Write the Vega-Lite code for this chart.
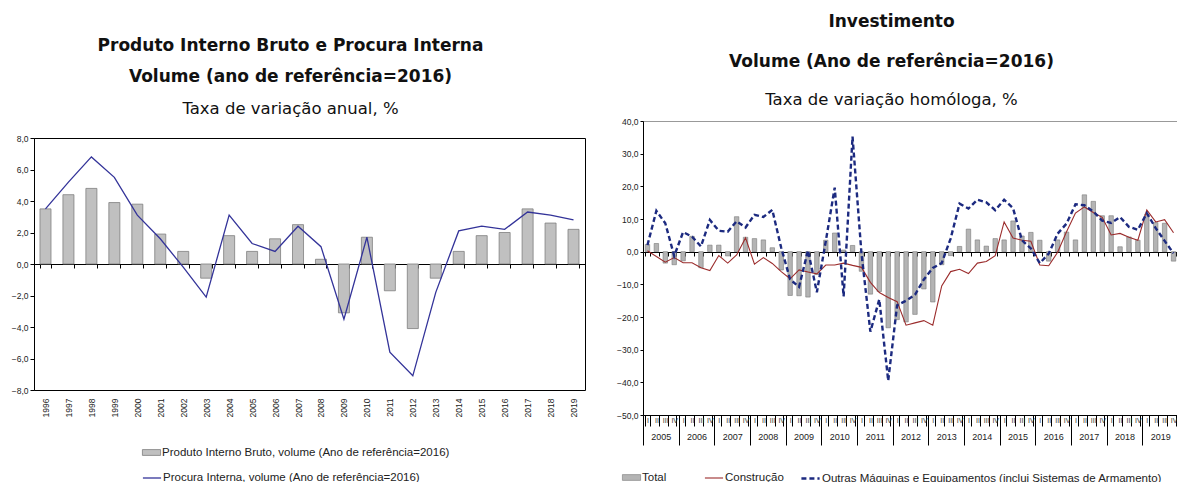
{
  "$schema": "https://vega.github.io/schema/vega-lite/v6.json",
  "background": "white",
  "padding": {"left": 10, "top": 12, "right": 0, "bottom": 0},
  "config": {
    "font": "Liberation Sans",
    "axis": {"labelFont": "Liberation Sans", "labelFontSize": 8.5, "labelColor": "#222", "domainColor": "#000", "tickColor": "#000", "grid": false, "labelOverlap": false},
    "axisY": {"labelOverlap": false},
    "axisQuantitative": {"labelOverlap": false},
    "title": {"font": "DejaVu Sans", "fontSize": 17, "fontWeight": "bold", "color": "#111", "subtitleFont": "DejaVu Sans", "subtitleFontSize": 16.5, "subtitleColor": "#111", "anchor": "middle", "frame": "group"},
    "legend": {"labelFont": "Liberation Sans", "labelFontSize": 11.5, "labelColor": "#222", "labelLimit": 500, "title": null}
  },
  "resolve": {"scale": {"color": "independent", "fill": "independent", "stroke": "independent", "strokeDash": "independent"}},
  "spacing": 29,
  "hconcat": [
    {
      "resolve": {"scale": {"x": "independent", "y": "independent"}},
      "spacing": 11,
      "data": {"values": [
        {"ano": "1996", "pib": 3.5, "procura": 3.5},
        {"ano": "1997", "pib": 4.4, "procura": 5.2},
        {"ano": "1998", "pib": 4.8, "procura": 6.8},
        {"ano": "1999", "pib": 3.9, "procura": 5.5},
        {"ano": "2000", "pib": 3.8, "procura": 3.1},
        {"ano": "2001", "pib": 1.9, "procura": 1.6},
        {"ano": "2002", "pib": 0.8, "procura": -0.2},
        {"ano": "2003", "pib": -0.9, "procura": -2.1},
        {"ano": "2004", "pib": 1.8, "procura": 3.1},
        {"ano": "2005", "pib": 0.8, "procura": 1.3},
        {"ano": "2006", "pib": 1.6, "procura": 0.8},
        {"ano": "2007", "pib": 2.5, "procura": 2.4},
        {"ano": "2008", "pib": 0.3, "procura": 1.1},
        {"ano": "2009", "pib": -3.1, "procura": -3.5},
        {"ano": "2010", "pib": 1.7, "procura": 1.7},
        {"ano": "2011", "pib": -1.7, "procura": -5.6},
        {"ano": "2012", "pib": -4.1, "procura": -7.1},
        {"ano": "2013", "pib": -0.9, "procura": -1.8},
        {"ano": "2014", "pib": 0.8, "procura": 2.1},
        {"ano": "2015", "pib": 1.8, "procura": 2.4},
        {"ano": "2016", "pib": 2.0, "procura": 2.2},
        {"ano": "2017", "pib": 3.5, "procura": 3.3},
        {"ano": "2018", "pib": 2.6, "procura": 3.1},
        {"ano": "2019", "pib": 2.2, "procura": 2.8}
      ]},
      "vconcat": [
        {
          "width": 551,
          "height": 1,
          "view": {"stroke": null},
          "title": {"text": ["Produto Interno Bruto e Procura Interna", "Volume (ano de referência=2016)"], "lineHeight": 31, "subtitle": "Taxa de variação anual, %", "subtitlePadding": 15, "offset": 2, "dx": -19},
          "mark": {"type": "rule", "opacity": 0},
          "encoding": {}
        },
        {
          "width": 551,
          "height": 252,
          "view": {"stroke": "#000", "strokeWidth": 1},
          "layer": [
            {
              "mark": {"type": "bar", "stroke": "#7f7f7f", "strokeWidth": 0.8},
              "encoding": {
                "x": {"field": "ano", "type": "ordinal", "scale": {"type": "band", "paddingInner": 0.52, "paddingOuter": 0.26},
                  "axis": {"title": null, "orient": "bottom", "offset": -126, "labelAngle": -90, "labelAlign": "right", "labelBaseline": "middle", "labelPadding": 130, "tickBand": "extent", "tickSize": 4, "labelFontSize": 8.5}},
                "y": {"field": "pib", "type": "quantitative", "scale": {"domain": [-8, 8], "nice": false},
                  "axis": {"title": null, "values": [-8, -6, -4, -2, 0, 2, 4, 6, 8], "labelOverlap": false, "labelExpr": "replace(format(datum.value, '.1f'), '.', ',')", "tickSize": 4, "labelPadding": 2}},
                "fill": {"datum": "Produto Interno Bruto, volume (Ano de referência=2016)",
                  "scale": {"range": ["#c0c0c0"]},
                  "legend": {"title": null, "orient": "none", "legendX": 108, "legendY": 322, "symbolType": "M-1,-0.32H1V0.32H-1Z", "symbolSize": 330, "symbolStrokeColor": "#7f7f7f", "symbolStrokeWidth": 0.8, "labelOffset": 1}}
              }
            },
            {
              "mark": {"type": "line", "strokeWidth": 1.3},
              "encoding": {
                "x": {"field": "ano", "type": "ordinal"},
                "y": {"field": "procura", "type": "quantitative",
                  "axis": {"title": null, "values": [-8, -6, -4, -2, 0, 2, 4, 6, 8], "labelOverlap": false, "labelExpr": "replace(format(datum.value, '.1f'), '.', ',')", "tickSize": 4, "labelPadding": 2}},
                "stroke": {"datum": "Procura Interna, volume (Ano de referência=2016)",
                  "scale": {"range": ["#333399"]},
                  "legend": {"title": null, "orient": "none", "legendX": 108, "legendY": 347, "symbolType": "stroke", "symbolSize": 330, "symbolStrokeWidth": 1.3, "labelOffset": 1}}
              }
            }
          ]
        }
      ]
    },
    {
      "width": 535,
      "height": 294,
      "view": {"stroke": "#999", "strokeWidth": 1},
      "title": {"text": ["Investimento", "Volume (Ano de referência=2016)"], "lineHeight": 40, "subtitle": "Taxa de variação homóloga, %", "subtitlePadding": 21, "offset": 8, "dx": -19},
      "data": {"values": [
        {"q": "2005-I", "total": 2.2, "constr": 0.3, "outras": 2.0},
        {"q": "2005-II", "total": 2.5, "constr": -1.5, "outras": 12.5},
        {"q": "2005-III", "total": -3.5, "constr": -3.2, "outras": 8.7},
        {"q": "2005-IV", "total": -4.0, "constr": -1.8, "outras": -1.3},
        {"q": "2006-I", "total": -2.8, "constr": -3.4, "outras": 6.0},
        {"q": "2006-II", "total": 4.7, "constr": -3.4, "outras": 4.6},
        {"q": "2006-III", "total": -4.9, "constr": -4.9, "outras": 1.6},
        {"q": "2006-IV", "total": 2.0, "constr": -5.8, "outras": 9.7},
        {"q": "2007-I", "total": 2.0, "constr": -1.2, "outras": 6.4},
        {"q": "2007-II", "total": -1.3, "constr": -3.5, "outras": 6.1},
        {"q": "2007-III", "total": 10.7, "constr": -1.0, "outras": 9.3},
        {"q": "2007-IV", "total": 4.4, "constr": 4.2, "outras": 7.4},
        {"q": "2008-I", "total": 4.0, "constr": -3.8, "outras": 11.3},
        {"q": "2008-II", "total": 3.6, "constr": -1.8, "outras": 10.6},
        {"q": "2008-III", "total": 1.2, "constr": -3.6, "outras": 12.8},
        {"q": "2008-IV", "total": -5.6, "constr": -6.1, "outras": 1.2},
        {"q": "2009-I", "total": -13.4, "constr": -8.3, "outras": -8.5},
        {"q": "2009-II", "total": -13.5, "constr": -5.6, "outras": -10.8},
        {"q": "2009-III", "total": -13.9, "constr": -6.2, "outras": 0.4},
        {"q": "2009-IV", "total": -7.0, "constr": -6.8, "outras": -12.4},
        {"q": "2010-I", "total": 3.5, "constr": -4.1, "outras": 3.2},
        {"q": "2010-II", "total": 5.7, "constr": -4.1, "outras": 19.6},
        {"q": "2010-III", "total": 0.5, "constr": -3.5, "outras": -13.7},
        {"q": "2010-IV", "total": 1.9, "constr": -4.2, "outras": 35.2},
        {"q": "2011-I", "total": -6.0, "constr": -4.8, "outras": -0.5},
        {"q": "2011-II", "total": -13.0, "constr": -9.4, "outras": -24.5},
        {"q": "2011-III", "total": -12.2, "constr": -12.5, "outras": -14.6},
        {"q": "2011-IV", "total": -23.3, "constr": -14.0, "outras": -39.5},
        {"q": "2012-I", "total": -20.8, "constr": -15.3, "outras": -16.4},
        {"q": "2012-II", "total": -21.5, "constr": -22.5, "outras": -15.0},
        {"q": "2012-III", "total": -19.2, "constr": -21.8, "outras": -13.2},
        {"q": "2012-IV", "total": -11.4, "constr": -21.1, "outras": -8.5},
        {"q": "2013-I", "total": -15.4, "constr": -22.5, "outras": -5.0},
        {"q": "2013-II", "total": -4.0, "constr": -10.5, "outras": -3.5},
        {"q": "2013-III", "total": -1.2, "constr": -6.1, "outras": 4.0},
        {"q": "2013-IV", "total": 1.6, "constr": -5.4, "outras": 14.7},
        {"q": "2014-I", "total": 6.9, "constr": -6.7, "outras": 13.2},
        {"q": "2014-II", "total": 3.6, "constr": -3.5, "outras": 15.9},
        {"q": "2014-III", "total": 1.7, "constr": -3.0, "outras": 15.1},
        {"q": "2014-IV", "total": 4.0, "constr": -1.2, "outras": 12.7},
        {"q": "2015-I", "total": 3.6, "constr": 9.1, "outras": 15.9},
        {"q": "2015-II", "total": 9.4, "constr": 4.2, "outras": 13.3},
        {"q": "2015-III", "total": 4.8, "constr": 3.5, "outras": 3.5},
        {"q": "2015-IV", "total": 5.9, "constr": 3.2, "outras": 1.0},
        {"q": "2016-I", "total": 3.5, "constr": -4.1, "outras": -3.5},
        {"q": "2016-II", "total": -2.9, "constr": -4.3, "outras": -0.6},
        {"q": "2016-III", "total": 3.6, "constr": -0.2, "outras": 5.5},
        {"q": "2016-IV", "total": 6.0, "constr": 6.1, "outras": 8.6},
        {"q": "2017-I", "total": 3.6, "constr": 11.8, "outras": 14.5},
        {"q": "2017-II", "total": 17.4, "constr": 13.7, "outras": 14.2},
        {"q": "2017-III", "total": 15.4, "constr": 12.0, "outras": 12.3},
        {"q": "2017-IV", "total": 11.0, "constr": 10.5, "outras": 9.5},
        {"q": "2018-I", "total": 11.0, "constr": 5.1, "outras": 8.8},
        {"q": "2018-II", "total": 1.5, "constr": 5.6, "outras": 10.6},
        {"q": "2018-III", "total": 4.5, "constr": 4.4, "outras": 7.6},
        {"q": "2018-IV", "total": 3.5, "constr": 3.5, "outras": 6.7},
        {"q": "2019-I", "total": 11.5, "constr": 12.8, "outras": 11.8},
        {"q": "2019-II", "total": 8.9, "constr": 9.1, "outras": 7.2},
        {"q": "2019-III", "total": 8.7, "constr": 9.8, "outras": 3.3},
        {"q": "2019-IV", "total": -2.9, "constr": 5.8, "outras": -0.5}
      ]},
      "resolve": {"axis": {"x": "independent"}},
      "layer": [
        {
          "mark": {"type": "bar", "stroke": "#7a7a7a", "strokeWidth": 0.6},
          "encoding": {
            "x": {"field": "q", "type": "nominal", "scale": {"type": "band", "paddingInner": 0.5, "paddingOuter": 0.25},
              "axis": {"title": null, "orient": "bottom", "offset": -163, "labels": false, "tickBand": "extent", "tickSize": 4, "domain": true}},
            "y": {"field": "total", "type": "quantitative", "scale": {"domain": [-50, 40], "nice": false},
              "axis": {"title": null, "values": [-50, -40, -30, -20, -10, 0, 10, 20, 30, 40], "labelOverlap": false, "labelExpr": "replace(format(datum.value, '.1f'), '.', ',')", "tickSize": 3, "labelPadding": 2}},
            "fill": {"datum": "Total",
              "scale": {"range": ["#b4b4b4"]},
              "legend": {"title": null, "orient": "none", "legendX": -21, "legendY": 347, "symbolType": "M-1,-0.32H1V0.32H-1Z", "symbolSize": 330, "symbolStrokeColor": "#7a7a7a", "symbolStrokeWidth": 0.6, "labelOffset": 1}}
          }
        },
        {
          "mark": {"type": "line", "strokeWidth": 1.1},
          "encoding": {
            "x": {"field": "q", "type": "nominal",
              "axis": {"title": null, "orient": "bottom", "labelExpr": "split(datum.value, '-')[1]", "labelAngle": 0, "labelFontSize": 7, "labelColor": "#333", "labelPadding": -10, "tickBand": "extent", "tickSize": 11, "labelBaseline": "top"}},
            "y": {"field": "constr", "type": "quantitative",
              "axis": {"title": null, "values": [-50, -40, -30, -20, -10, 0, 10, 20, 30, 40], "labelOverlap": false, "labelExpr": "replace(format(datum.value, '.1f'), '.', ',')", "tickSize": 3, "labelPadding": 2}},
            "stroke": {"datum": "Construção",
              "scale": {"range": ["#9b2c2c"]},
              "legend": {"title": null, "orient": "none", "legendX": 61, "legendY": 347, "symbolType": "stroke", "symbolSize": 330, "symbolStrokeWidth": 1.1, "labelOffset": 1}}
          }
        },
        {
          "mark": {"type": "line", "strokeWidth": 2.4, "stroke": "#1c2a80"},
          "encoding": {
            "x": {"field": "q", "type": "nominal",
              "axis": {"title": null, "orient": "bottom", "domain": false, "values": ["2005-I", "2006-I", "2007-I", "2008-I", "2009-I", "2010-I", "2011-I", "2012-I", "2013-I", "2014-I", "2015-I", "2016-I", "2017-I", "2018-I", "2019-I"], "labelExpr": "split(datum.value, '-')[0]", "labelAngle": 0, "labelFontSize": 9, "tickSize": 30, "tickOffset": -4.46, "labelOffset": 17.86, "labelPadding": -13, "labelBaseline": "top"}},
            "y": {"field": "outras", "type": "quantitative",
              "axis": {"title": null, "values": [-50, -40, -30, -20, -10, 0, 10, 20, 30, 40], "labelOverlap": false, "labelExpr": "replace(format(datum.value, '.1f'), '.', ',')", "tickSize": 3, "labelPadding": 2}},
            "strokeDash": {"datum": "Outras Máquinas e Equipamentos (inclui Sistemas de Armamento)",
              "scale": {"range": [[5, 3]]},
              "legend": {"title": null, "orient": "none", "legendX": 157, "legendY": 347, "symbolType": "stroke", "symbolSize": 330, "symbolStrokeColor": "#1c2a80", "symbolStrokeWidth": 2.4, "labelOffset": 1}}
          }
        }
      ]
    }
  ]
}
